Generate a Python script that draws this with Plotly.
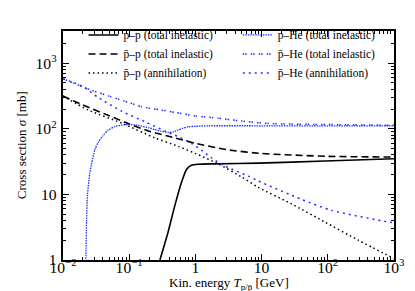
import plotly.graph_objects as go

# ---- data ----
pp_tot_T = [0.291, 0.388, 0.49, 0.617, 0.734, 0.873, 1.1, 2.0, 9.0, 90, 1000]
pp_tot_s = [1.0, 2.7, 6.8, 15.3, 24.0, 27.8, 28.8, 29.2, 29.9, 32.2, 35.0]

pbp_tot_T = [0.01, 0.02, 0.05, 0.1, 0.2, 0.5, 1.0, 3.0, 10, 100, 1000]
pbp_tot_s = [315, 230, 158, 118, 92, 72, 60, 48, 42, 38, 37]

pbp_ann_T = [0.01, 0.024, 0.077, 0.244, 0.55, 1.0, 2.24, 5.0, 8.9, 28, 90, 290, 1000]
pbp_ann_s = [315, 193, 122, 72.5, 54, 42, 29, 18.4, 12.8, 7.2, 3.8, 2.0, 1.05]

pHe_tot_T = [0.0221, 0.0223, 0.02265, 0.0234, 0.0255, 0.0303, 0.034, 0.04, 0.048, 0.06,
             0.077, 0.1, 0.137, 0.2, 0.244, 0.3, 0.39, 0.47, 0.55, 0.65, 0.78, 1.0,
             1.55, 10, 100, 1000]
pHe_tot_s = [0.8, 1.5, 3.8, 9.6, 21.6, 48, 62, 78, 95, 108,
             114, 116, 113, 103, 97, 92, 88, 90, 96, 102, 107, 109,
             111, 111, 111, 111]

pbHe_tot_T = [0.01, 0.015, 0.02, 0.027, 0.05, 0.1, 0.152, 0.3, 0.5, 1.0, 2.2, 4.4, 12.6, 100, 1000]
pbHe_tot_s = [578, 490, 435, 386, 314, 250, 217, 193, 177, 157, 145, 133, 120, 116, 113]

pbHe_ann_T = [0.01, 0.02, 0.034, 0.077, 0.173, 0.35, 0.55, 0.87, 1.24, 1.75, 2.8,
              6.3, 8.9, 40, 114, 813, 1000]
pbHe_ann_s = [578, 440, 300, 185, 128, 92, 76, 60, 47, 36, 27,
              19, 16, 8.4, 5.7, 3.8, 3.7]

labels = ["p–p (total inelastic)", "p̄–p (total inelastic)", "p̄–p (annihilation)",
          "p–He (total inelastic)", "p̄–He (total inelastic)", "p̄–He (annihilation)"]

FONT = "Liberation Serif"

fig = go.Figure()

series = [
    (pp_tot_T, pp_tot_s, labels[0], "black", "solid", 1.6, "legend"),
    (pbp_tot_T, pbp_tot_s, labels[1], "black", "7px,4px", 1.6, "legend"),
    (pbp_ann_T, pbp_ann_s, labels[2], "black", "1.5px,3px", 1.5, "legend"),
    (pHe_tot_T, pHe_tot_s, labels[3], "#2030ff", "1.5px,1px", 1.3, "legend2"),
    (pbHe_tot_T, pbHe_tot_s, labels[4], "#2030ff", "1.5px,1px,1.5px,4px", 1.5, "legend2"),
    (pbHe_ann_T, pbHe_ann_s, labels[5], "#2030ff", "2px,4px", 1.5, "legend2"),
]

for T, s, name, col, dash, w, leg in series:
    fig.add_trace(go.Scatter(
        x=T, y=s, mode="lines", name=name, legend=leg,
        line=dict(color=col, dash=dash, width=w, shape="spline", smoothing=0.6),
    ))

axis_common = dict(
    type="log", showgrid=False, zeroline=False,
    showline=True, linecolor="black", linewidth=1.8, mirror="allticks",
    ticks="inside", ticklen=6, tickwidth=1, tickcolor="black",
    dtick=1, exponentformat="power",
    tickfont=dict(family=FONT, size=12.5, color="black"),
    minor=dict(ticks="inside", ticklen=3, tickwidth=0.8, tickcolor="black", dtick="D1", showgrid=False),
)

fig.update_xaxes(range=[-2, 3], ticklabelstandoff=-7, **axis_common)
fig.update_yaxes(range=[0, 3.49], ticklabelstandoff=2, **axis_common)

leg_common = dict(
    font=dict(family=FONT, size=11.5, color="black"),
    bgcolor="rgba(0,0,0,0)", borderwidth=0, itemwidth=30,
    xanchor="left", yanchor="top", tracegroupgap=0,
)

fig.update_layout(
    width=415, height=291,
    margin=dict(l=55, r=29, t=20, b=39),
    paper_bgcolor="white", plot_bgcolor="white",
    showlegend=True,
    legend=dict(x=0.062, y=1.046, **leg_common),
    legend2=dict(x=0.528, y=1.046, **leg_common),
    annotations=[
        dict(text="Kin. energy <i>T</i><sub>p/p̄</sub> [GeV]", xref="paper", yref="paper",
             x=0.5, y=-0.104, xanchor="center", yanchor="middle", showarrow=False,
             font=dict(family=FONT, size=13, color="black")),
        dict(text="Cross section <i>σ</i> [mb]", xref="paper", yref="paper",
             x=-0.125, y=0.5, xanchor="center", yanchor="middle", showarrow=False,
             textangle=-90, font=dict(family=FONT, size=13, color="black")),
    ],
)

fig.write_html("out.html")
